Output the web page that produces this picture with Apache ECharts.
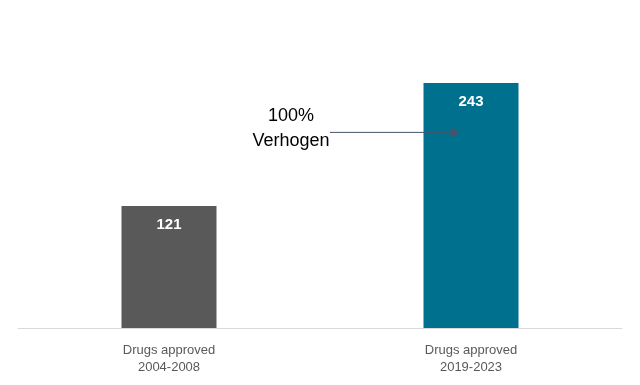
<!DOCTYPE html>
<html><head><meta charset="utf-8">
<script src="https://cdn.jsdelivr.net/npm/echarts@6/dist/echarts.min.js"></script>
<style>html,body{margin:0;padding:0;background:#fff}#c{width:640px;height:385px}</style>
</head><body><div id="c"></div>
<script>
const categories = ['Drugs approved\n2004-2008', 'Drugs approved\n2019-2023'];
const values = [121, 243];
const barColors = ['#595959', '#00708f'];
const annotationText = '100%\nVerhogen';
const annotationValue = 194; // value level of the connector dot on bar 2

const chart = echarts.init(document.getElementById('c'));
const font = '"Liberation Sans", Arial, sans-serif';
chart.setOption({
  animation: false,
  grid: {left: 18, right: 18, top: 25.5, bottom: 57},
  xAxis: {
    type: 'category', data: categories,
    axisLine: {lineStyle: {color: '#d9d9d9', width: 1}},
    axisTick: {show: false},
    axisLabel: {color: '#595959', fontSize: 13, fontFamily: font, lineHeight: 17, margin: 14}
  },
  yAxis: {type: 'value', min: 0, max: 300, show: false, splitLine: {show: false}},
  series: [{
    type: 'bar', barWidth: 95,
    data: values.map((v, i) => ({value: v, itemStyle: {color: barColors[i]}})),
    label: {show: true, position: 'insideTop', distance: 11, color: '#fff', fontWeight: 'bold', fontSize: 15, fontFamily: font}
  }]
});
const p = chart.convertToPixel({xAxisIndex: 0, yAxisIndex: 0}, [1, annotationValue]);
const dotX = p[0] - 17, dotY = p[1];
chart.setOption({
  graphic: [
    {type: 'line', z: 100, shape: {x1: 330, y1: dotY, x2: dotX, y2: dotY}, style: {stroke: '#44546a', lineWidth: 1}},
    {type: 'circle', z: 101, shape: {cx: dotX, cy: dotY, r: 4}, style: {fill: '#44546a'}},
    {type: 'text', z: 100, x: 291, y: dotY - 4, style: {text: annotationText, fill: '#000', font: '18px ' + font, align: 'center', verticalAlign: 'middle', lineHeight: 25}}
  ]
});
</script></body></html>
